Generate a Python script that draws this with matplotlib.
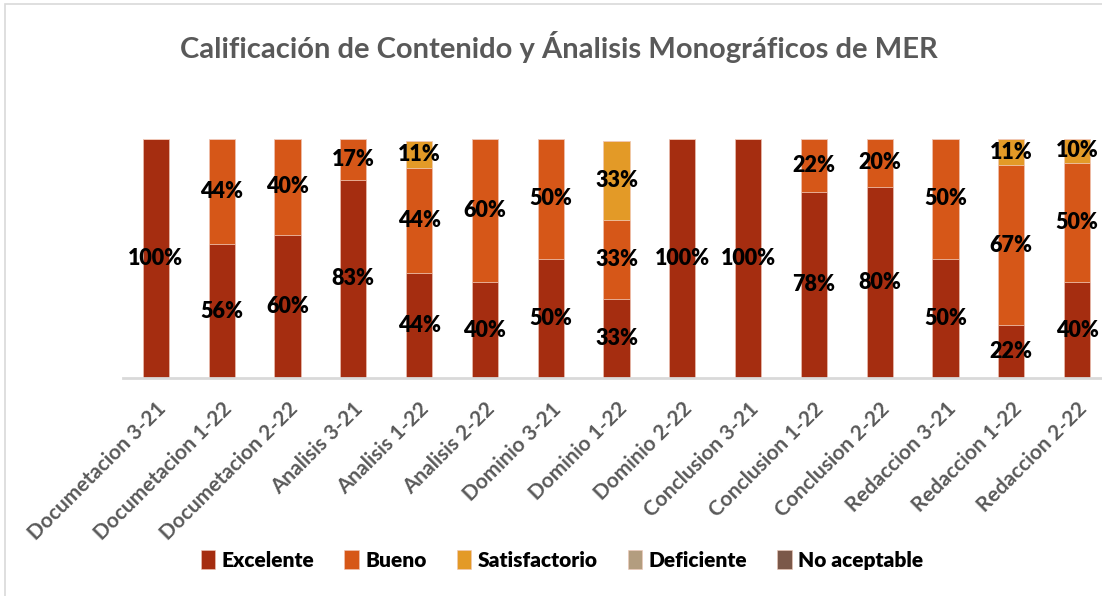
import matplotlib.pyplot as plt
import numpy as np
from matplotlib.patches import Rectangle

plt.rcParams['font.family'] = ['Lato', 'DejaVu Sans']

categorias = ['Documetacion 3-21', 'Documetacion 1-22', 'Documetacion 2-22',
              'Analisis 3-21', 'Analisis 1-22', 'Analisis 2-22',
              'Dominio 3-21', 'Dominio 1-22', 'Dominio 2-22',
              'Conclusion 3-21', 'Conclusion 1-22', 'Conclusion 2-22',
              'Redaccion 3-21', 'Redaccion 1-22', 'Redaccion 2-22']

excelente = [100, 56, 60, 83, 44, 40, 50, 33, 100, 100, 78, 80, 50, 22, 40]
bueno = [0, 44, 40, 17, 44, 60, 50, 33, 0, 0, 22, 20, 50, 67, 50]
satisfactorio = [0, 0, 0, 0, 11, 0, 0, 33, 0, 0, 0, 0, 0, 11, 10]
deficiente = [0] * 15
no_aceptable = [0] * 15

series = ['Excelente', 'Bueno', 'Satisfactorio', 'Deficiente', 'No aceptable']
colores = ['#A52D10', '#D65718', '#E39A27', '#B39D7F', '#7B5849']
valores = [excelente, bueno, satisfactorio, deficiente, no_aceptable]

fig = plt.figure(figsize=(11.02, 5.96), dpi=100)
# borde del area del grafico
fig.patches.append(Rectangle((5 / 1102, -0.1), 1.2, 1 - 4 / 596 + 0.1, transform=fig.transFigure,
                             fill=False, edgecolor='#D9D9D9', linewidth=1.2))

ax = fig.add_axes([123 / 1102, 1 - 378 / 596, 987 / 1102, 239 / 596])
x = np.arange(len(categorias))
base = np.zeros(len(categorias))
for nombre, col, vals in zip(series, colores, valores):
    v = np.array(vals) / 100
    ax.bar(x, v, 0.4, bottom=base, color=col, edgecolor='#F0C8B8', linewidth=0.4, label=nombre)
    for i in range(len(x)):
        if v[i] > 0:
            ax.text(x[i], base[i] + v[i] / 2, f'{vals[i]}%', ha='center', va='center',
                    fontsize=15.5, fontweight='heavy', color='black')
    base += v

ax.set_xlim(-0.5, 14.5)
ax.set_ylim(0, 1)
ax.set_yticks([])
for s in ['top', 'right', 'left']:
    ax.spines[s].set_visible(False)
ax.spines['bottom'].set_color('#D9D9D9')
ax.spines['bottom'].set_linewidth(2)
ax.set_xticks(x)
ax.set_xticklabels(categorias, rotation=45, ha='right', rotation_mode='anchor',
                   fontsize=15, fontweight='bold', color='#595959')
ax.tick_params(axis='x', length=0, pad=15)

fig.text(559 / 1102, 1 - 47 / 596, 'Calificación de Contenido y Ánalisis Monográficos de MER',
         ha='center', va='center', fontsize=21, fontweight='bold', color='#595959')

fig.legend(loc='center', bbox_to_anchor=(562 / 1102, 1 - 560 / 596), ncol=5, frameon=False,
           prop={'weight': 'heavy', 'size': 15}, handlelength=0.7, handleheight=1.0,
           handletextpad=0.3, columnspacing=1.45)

fig.savefig('out.png', dpi=100)
